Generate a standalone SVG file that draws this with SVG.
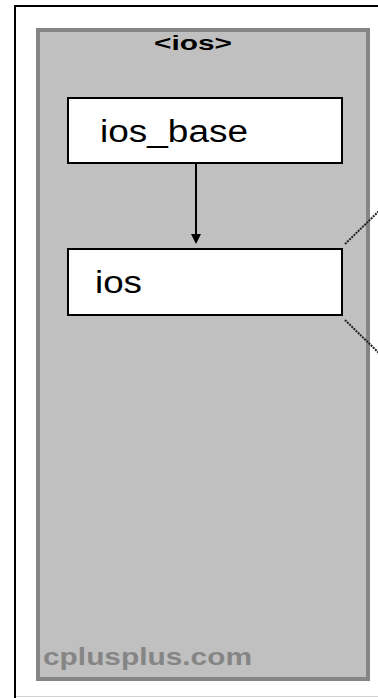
<svg xmlns="http://www.w3.org/2000/svg" width="378" height="698" viewBox="0 0 378 698">
  <style>
    .frame { fill: #ffffff; }
    .pkg { fill: #c0c0c0; stroke: #858585; stroke-width: 4; }
    .cls { fill: #ffffff; stroke: #000000; stroke-width: 2; }
    .label { font-family: "Liberation Sans", Arial, sans-serif; fill: #000000; }
    .title { font-family: "Liberation Sans", Arial, sans-serif; font-weight: bold; fill: #000000; }
    .mark { font-family: "Liberation Sans", Arial, sans-serif; font-weight: bold; fill: #858585; }
    .edge { stroke: #000000; stroke-width: 2; fill: none; }
    .head { fill: #000000; }
    .link { stroke: #222222; stroke-width: 2; stroke-dasharray: 2 1; fill: none; }
  </style>

  <!-- page frame -->
  <rect class="frame" x="0" y="0" width="378" height="698"/>
  <line x1="15" y1="6" x2="378" y2="6" stroke="#000000" stroke-width="2"/>
  <line x1="15" y1="5" x2="15" y2="698" stroke="#000000" stroke-width="2"/>
  <line x1="16" y1="696.5" x2="378" y2="696.5" stroke="#d4d4d4" stroke-width="1"/>

  <!-- <ios> header package -->
  <g id="pkg-ios">
    <rect class="pkg" x="38" y="30" width="330" height="649"/>
    <text class="title" x="154" y="50" font-size="20" textLength="78" lengthAdjust="spacingAndGlyphs">&lt;ios&gt;</text>
    <text class="mark" x="43" y="665" font-size="24" textLength="209" lengthAdjust="spacingAndGlyphs">cplusplus.com</text>
  </g>

  <!-- class ios_base -->
  <g id="node-ios_base">
    <rect class="cls" x="68" y="98" width="274" height="65"/>
    <text class="label" x="100" y="142" font-size="31" textLength="148" lengthAdjust="spacingAndGlyphs">ios_base</text>
  </g>

  <!-- class ios -->
  <g id="node-ios">
    <rect class="cls" x="68" y="249" width="274" height="66"/>
    <text class="label" x="95" y="293" font-size="31" textLength="47" lengthAdjust="spacingAndGlyphs">ios</text>
  </g>

  <!-- connectors -->
  <g id="connectors">
    <line class="edge" x1="196" y1="164" x2="196" y2="236"/>
    <polygon class="head" points="191,234 201,234 196,244"/>
    <line class="link" x1="345" y1="244" x2="380" y2="210"/>
    <line class="link" x1="345" y1="320" x2="380" y2="354"/>
  </g>
</svg>
